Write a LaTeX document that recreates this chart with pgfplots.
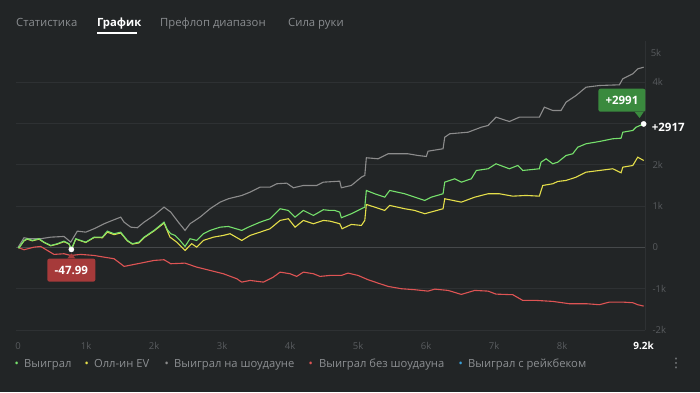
\documentclass[border=0pt]{standalone}
\usepackage{pgfplots}
\pgfplotsset{compat=1.18}
\usepackage{fontspec}
\setmainfont{Open Sans}
\newfontfamily\symfont{DejaVu Sans}
\definecolor{bg}{RGB}{34,37,38}
\definecolor{gridc}{RGB}{46,49,51}
\definecolor{zeroc}{RGB}{70,73,75}
\definecolor{tickc}{RGB}{88,91,94}
\definecolor{tabc}{RGB}{138,141,144}
\definecolor{legc}{RGB}{140,143,146}
\definecolor{lgreen}{RGB}{118,224,108}
\definecolor{lyellow}{RGB}{228,222,74}
\definecolor{lgrey}{RGB}{140,140,140}
\definecolor{lred}{RGB}{222,84,84}
\definecolor{lblue}{RGB}{58,160,216}
\definecolor{boxgreen}{RGB}{58,138,62}
\definecolor{boxred}{RGB}{166,58,58}
\begin{document}
\begin{tikzpicture}[x=1pt,y=1pt]
\fill[bg] (0,0) rectangle (700,392);
% tabs
\node[anchor=base west, inner sep=0, text=tabc, font=\fontsize{11.3}{13}\selectfont] at (16,365.5) {Статистика};
\node[anchor=base west, inner sep=0, text=white, font=\fontsize{11.3}{13}\selectfont\bfseries] at (97,365.5) {График};
\fill[white] (97,357.8) rectangle (137,359.6);
\node[anchor=base west, inner sep=0, text=tabc, font=\fontsize{11.3}{13}\selectfont] at (160,365.5) {Префлоп диапазон};
\node[anchor=base west, inner sep=0, text=tabc, font=\fontsize{11.3}{13}\selectfont] at (288,365.5) {Сила руки};
% legend
\begin{scope}[every node/.style={anchor=base west, inner sep=0, font=\fontsize{11.2}{12}\selectfont}]
\node[text=lgreen] at (14.5,25) {•};
\node[text=legc] at (24,25) {Выиграл};
\node[text=lyellow] at (84.5,25) {•};
\node[text=legc] at (94,25) {Олл-ин EV};
\node[text=lgrey] at (164.5,25) {•};
\node[text=legc] at (174,25) {Выиграл на шоудауне};
\node[text=lred] at (308.5,25) {•};
\node[text=legc] at (319,25) {Выиграл без шоудауна};
\node[text=lblue] at (458.5,25) {•};
\node[text=legc] at (468,25) {Выиграл с рейкбеком};
\end{scope}
\node[text=legc, font=\symfont\fontsize{13}{13}\selectfont] at (676,29) {⋮};
\begin{axis}[
  at={(16pt,62pt)}, anchor=south west, scale only axis,
  width=629pt, height=289pt,
  xmin=-30, xmax=9220, ymin=-2000, ymax=5000,
  axis line style={draw=none},
  major tick length=0pt,
  ymajorgrids, grid style={gridc, line width=0.8pt},
  xtick={0,1000,2000,3000,4000,5000,6000,7000,8000,9200},
  xticklabels={0,1k,2k,3k,4k,5k,6k,7k,8k,{\textcolor{white}{\fontsize{10}{11}\selectfont\bfseries 9.2k}}},
  xticklabel style={anchor=center, yshift=-16pt},
  ytick={-2000,-1000,0,1000,2000,3000,4000},
  yticklabels={-2k,-1k,0,1k,2k,,4k},
  yticklabel pos=right,
  tick label style={text=tickc, font=\fontsize{9.5}{10}\selectfont},
  yticklabel style={anchor=west, xshift=4pt},
  extra y ticks={0}, extra y tick labels={},
  extra y tick style={grid style={zeroc, line width=0.9pt}},
  clip=false,
]
\draw[gridc, line width=0.8pt] (rel axis cs:1,0) -- (rel axis cs:1,1);
\node[anchor=west, inner sep=0, text=tickc, font=\fontsize{9.5}{10}\selectfont] at (axis cs:9220,4720) {\hspace{4pt}\,5k};
% red: won without showdown
\addplot[lred, line width=1.1pt] coordinates {
(0,0) (88,-56) (235,7) (334,24) (431,-73) (529,-169) (676,-153) (775,-194) (922,-169)
(1118,-194) (1265,-235) (1412,-274) (1510,-395) (1559,-460) (1706,-412) (1804,-380)
(2000,-315) (2147,-298) (2246,-395) (2456,-380) (2628,-477) (2824,-557) (3019,-637)
(3216,-758) (3290,-840) (3412,-799) (3607,-840) (3754,-719) (3853,-598) (4000,-637)
(4098,-702) (4196,-598) (4343,-637) (4441,-702) (4588,-678) (4754,-678) (4853,-622)
(5000,-678) (5147,-782) (5294,-864) (5441,-944) (5637,-1000) (5834,-1024) (6029,-1058)
(6128,-1010) (6324,-1041) (6519,-1138) (6716,-1041) (6912,-1058) (7029,-1131)
(7275,-1145) (7422,-1283) (7618,-1283) (7863,-1307) (8107,-1363) (8353,-1363)
(8549,-1387) (8696,-1324) (8893,-1324) (9040,-1339) (9113,-1387) (9200,-1421)
};
% grey: won at showdown
\addplot[lgrey, line width=1.1pt] coordinates {
(0,0) (88,235) (162,211) (334,211) (481,249) (676,266) (775,128) (872,395) (996,370)
(1118,453) (1265,574) (1412,671) (1510,734) (1559,612) (1657,491) (1754,477) (1853,612)
(2000,775) (2147,976) (2246,855) (2357,612) (2456,412) (2529,574) (2676,734) (2824,937)
(2971,1097) (3093,1179) (3290,1259) (3412,1339) (3559,1460) (3706,1460) (3804,1542)
(3951,1557) (4049,1445) (4196,1501) (4393,1501) (4490,1581) (4731,1605) (4754,1445)
(4901,1501) (5049,1702) (5099,1743) (5122,2172) (5294,2147) (5441,2268) (5735,2268)
(5882,2227) (6004,2203) (6029,2331) (6250,2390) (6275,2670) (6349,2753) (6618,2791)
(6813,2912) (6912,2954) (7029,3155) (7225,3050) (7372,3155) (7666,3155) (7740,3397)
(7863,3317) (7985,3317) (8059,3518) (8206,3680) (8353,3881) (8549,3922) (8843,3939)
(8893,4084) (9040,4205) (9113,4326) (9200,4365)
};
% yellow: all-in EV
\addplot[lyellow, line width=1.1pt] coordinates {
(0,0) (15,-7) (88,160) (137,200) (210,160) (309,200) (382,120) (481,40) (578,80)
(676,140) (750,80) (784,-55) (849,200) (922,160) (996,120) (1118,240) (1240,235)
(1313,370) (1412,310) (1510,350) (1607,160) (1681,80) (1779,110) (1853,235) (2000,400)
(2147,590) (2235,249) (2334,128) (2456,-73) (2554,90) (2628,7) (2725,169) (2872,249)
(3019,291) (3118,332) (3290,169) (3412,291) (3559,370) (3706,453) (3853,654) (3975,695)
(4074,491) (4196,654) (4343,574) (4490,654) (4588,637) (4731,574) (4765,453) (4901,557)
(5049,533) (5099,654) (5122,1041) (5246,976) (5393,896) (5466,1017) (5687,937)
(5834,896) (5981,816) (6250,937) (6275,1179) (6519,1097) (6716,1218) (6912,1300)
(7078,1300) (7275,1242) (7471,1259) (7666,1242) (7716,1501) (7863,1542) (7937,1598)
(8059,1622) (8206,1702) (8353,1823) (8549,1864) (8746,1905) (8868,1808) (8893,1944)
(9040,1985) (9113,2186) (9200,2106)
};
% green: won
\addplot[lgreen, line width=1.1pt] coordinates {
(0,0) (15,-7) (88,169) (137,211) (210,169) (309,211) (382,128) (481,48) (578,90)
(676,153) (750,90) (784,-48) (849,211) (922,169) (996,128) (1118,249) (1240,249)
(1313,395) (1412,332) (1510,370) (1607,169) (1681,90) (1779,128) (1853,249) (2000,412)
(2147,612) (2196,429) (2246,332) (2309,291) (2382,169) (2456,24) (2529,211) (2628,169)
(2725,332) (2824,412) (2971,491) (3093,508) (3290,412) (3387,491) (3559,612) (3706,695)
(3853,937) (3975,896) (4074,734) (4196,896) (4343,775) (4490,913) (4588,896) (4657,896)
(4731,855) (4754,719) (4901,816) (5049,937) (5099,976) (5122,1380) (5246,1300)
(5393,1218) (5466,1380) (5687,1300) (5834,1218) (5981,1138) (6078,1218) (6250,1300)
(6275,1581) (6422,1663) (6519,1581) (6666,1663) (6740,1864) (6912,1905) (7029,2026)
(7225,1905) (7349,1985) (7422,1864) (7666,1905) (7691,2065) (7765,2147) (7863,2026)
(7937,2065) (8059,2227) (8157,2268) (8231,2428) (8353,2511) (8549,2566) (8746,2632)
(8868,2646) (8893,2791) (9040,2833) (9088,2912) (9200,2991)
};
% highlighted points
\addplot[only marks, mark=*, mark size=2.6pt, white] coordinates {(784,-48) (9200,2991)};
% annotations
\node[fill=boxred, text=white, rounded corners=2pt, minimum width=48pt, minimum height=23pt, inner sep=0, font=\fontsize{11.5}{12}\selectfont\bfseries, anchor=north] (mn) at ([yshift=-9pt]axis cs:784,-48) {-47.99};
\fill[boxred] ([xshift=-4pt]mn.north) -- ([yshift=5pt]mn.north) -- ([xshift=4pt]mn.north) -- cycle;
\node[fill=boxgreen, text=white, rounded corners=2pt, minimum width=47pt, minimum height=23pt, inner sep=0, font=\fontsize{11.5}{12}\selectfont\bfseries, anchor=south east] (mx) at ([xshift=2pt, yshift=12pt]axis cs:9200,2991) {+2991};
\fill[boxgreen] ([xshift=-11pt]mx.south east) -- ([xshift=-6pt,yshift=-6pt]mx.south east) -- ([xshift=-2pt]mx.south east) -- cycle;
\node[anchor=west, inner sep=0, text=white, font=\fontsize{11.5}{12}\selectfont\bfseries] at ([xshift=8pt,yshift=-3pt]axis cs:9200,2991) {+2917};
\end{axis}
\pgfresetboundingbox
\useasboundingbox (0,0) rectangle (700,392);
\end{tikzpicture}
\end{document}
